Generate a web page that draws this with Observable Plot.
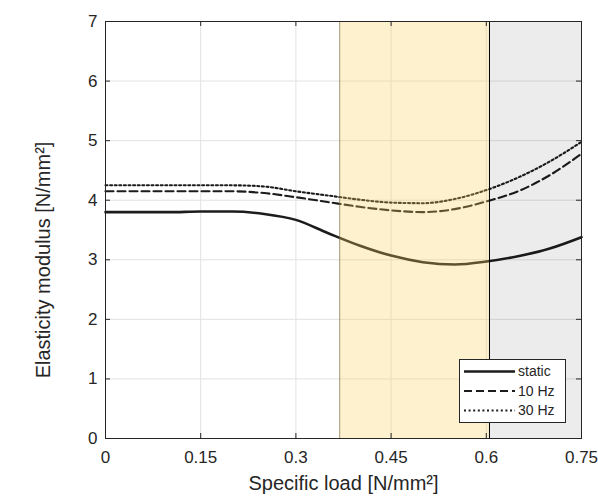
<!DOCTYPE html>
<html><head>
<meta charset="utf-8">
<script src="https://cdn.jsdelivr.net/npm/d3@7"></script>
<script src="https://cdn.jsdelivr.net/npm/@observablehq/plot@0.6"></script>
<style>
body{margin:0;background:#fff;}
#wrap{position:relative;width:598px;height:501px;font-family:"Liberation Sans",Arial,sans-serif;}
#wrap svg{display:block;}
#legend{position:absolute;left:459px;top:359px;}
</style>
</head><body><div id="wrap"></div>
<script>
// ---- data ----
const loads    = [0, 0.05, 0.1, 0.15, 0.2, 0.25, 0.3, 0.35, 0.4, 0.45, 0.5, 0.55, 0.6, 0.65, 0.7, 0.75];
const staticE  = [3.80, 3.80, 3.80, 3.81, 3.81, 3.77, 3.67, 3.45, 3.24, 3.07, 2.96, 2.92, 2.97, 3.06, 3.19, 3.38];
const hz10E    = [4.15, 4.15, 4.15, 4.15, 4.15, 4.12, 4.05, 3.97, 3.89, 3.83, 3.80, 3.85, 3.98, 4.15, 4.42, 4.78];
const hz30E    = [4.25, 4.25, 4.25, 4.25, 4.25, 4.23, 4.15, 4.08, 4.01, 3.96, 3.95, 4.02, 4.17, 4.38, 4.65, 4.98];
const seriesNames = ["static", "10 Hz", "30 Hz"];
const xTicks = [0, 0.15, 0.3, 0.45, 0.6, 0.75];
const yTicks = [0, 1, 2, 3, 4, 5, 6, 7];
const zoneStart = [0.369, 0.605];
const zoneEnd   = [0.605, 0.75];
const xLabel = "Specific load [N/mm²]";
const yLabel = "Elasticity modulus [N/mm²]";

// ---- build tables ----
const seriesVals = [staticE, hz10E, hz30E];
const styles = {
  "static": {width: 2.6, dash: null},
  "10 Hz": {width: 2.1, dash: "8,4"},
  "30 Hz": {width: 2.1, dash: "2,2.6"}
};
const rows = seriesNames.flatMap((s, i) => loads.map((x, j) => ({x, y: seriesVals[i][j], s})));
const zones = zoneStart.map((a, i) => ({x1: a, x2: zoneEnd[i], i}));

const W = 598, H = 501, mL = 105, mR = 17, mT = 21, mB = 63;
const pw = W - mL - mR, ph = H - mT - mB;
const ink = "#262626";

const lineMarks = seriesNames.map(s => Plot.line(rows.filter(r => r.s === s), {
  x: "x", y: "y", stroke: "#1c1c1c", strokeWidth: styles[s].width,
  strokeDasharray: styles[s].dash, curve: "monotone-x"
}));

const chart = Plot.plot({
  width: W, height: H,
  marginLeft: mL, marginRight: mR, marginTop: mT, marginBottom: mB,
  style: {fontFamily: "'Liberation Sans', Arial, sans-serif", color: ink, background: "#fff"},
  x: {domain: [0, 0.75], ticks: xTicks},
  y: {domain: [0, 7], ticks: yTicks},
  marks: [
    Plot.ruleX(xTicks, {x: d => d, stroke: "#e2e2e2", strokeWidth: 1}),
    Plot.ruleY(yTicks, {y: d => d, stroke: "#e2e2e2", strokeWidth: 1}),
    ...lineMarks,
    Plot.rectX(zones.filter(z => z.i === 0), {x1: "x1", x2: "x2", y1: 0, y2: 7, fill: "#f7d55a", fillOpacity: 0.3}),
    Plot.rectX(zones.filter(z => z.i === 1), {x1: "x1", x2: "x2", y1: 0, y2: 7, fill: "#000", fillOpacity: 0.075}),
    Plot.ruleX(zones.filter(z => z.i === 0), {x: "x1", stroke: "#5a5030", strokeOpacity: 0.55, strokeWidth: 1}),
    Plot.ruleX(zones.filter(z => z.i === 1), {x: "x1", stroke: "#000", strokeWidth: 1}),
    // inward ticks
    Plot.tickX(xTicks, {x: d => d, stroke: ink, insetTop: ph - 5}),
    Plot.tickX(xTicks, {x: d => d, stroke: ink, insetBottom: ph - 5}),
    Plot.tickY(yTicks, {y: d => d, stroke: ink, insetRight: pw - 5}),
    Plot.tickY(yTicks, {y: d => d, stroke: ink, insetLeft: pw - 5}),
    Plot.frame({stroke: ink, strokeWidth: 1}),
    Plot.axisX({ticks: xTicks, tickSize: 0, tickPadding: 12, fontSize: 17, label: null,
      tickFormat: d => d === 0 ? "0" : String(d), fill: ink}),
    Plot.axisY({ticks: yTicks, tickSize: 0, tickPadding: 8, fontSize: 17, label: null,
      tickFormat: d => String(d), fill: ink}),
    Plot.text([xLabel], {frameAnchor: "bottom", textAnchor: "middle", lineAnchor: "middle", dy: 45, fontSize: 20, fill: ink, text: d => d}),
    Plot.text([yLabel], {frameAnchor: "left", textAnchor: "middle", lineAnchor: "middle", dx: -62, dy: 30, rotate: -90, fontSize: 20, fill: ink, text: d => d})
  ]
});
document.getElementById("wrap").appendChild(chart);

// ---- legend ----
const lw = 107, lh = 64;
const leg = d3.select("#wrap").append("svg").attr("id", "legend")
  .attr("width", lw).attr("height", lh);
leg.append("rect").attr("x", 0.5).attr("y", 0.5).attr("width", lw - 1).attr("height", lh - 1)
  .attr("fill", "#fff").attr("stroke", ink);
seriesNames.forEach((s, i) => {
  const y = 12.5 + i * 19.5;
  leg.append("line").attr("x1", 5).attr("x2", 56).attr("y1", y).attr("y2", y)
    .attr("stroke", "#1c1c1c").attr("stroke-width", styles[s].width)
    .attr("stroke-dasharray", styles[s].dash);
  leg.append("text").attr("x", 59).attr("y", y).attr("dy", "0.35em")
    .attr("font-size", 14).attr("fill", ink)
    .attr("font-family", "'Liberation Sans', Arial, sans-serif").text(s);
});
</script>
</body></html>
